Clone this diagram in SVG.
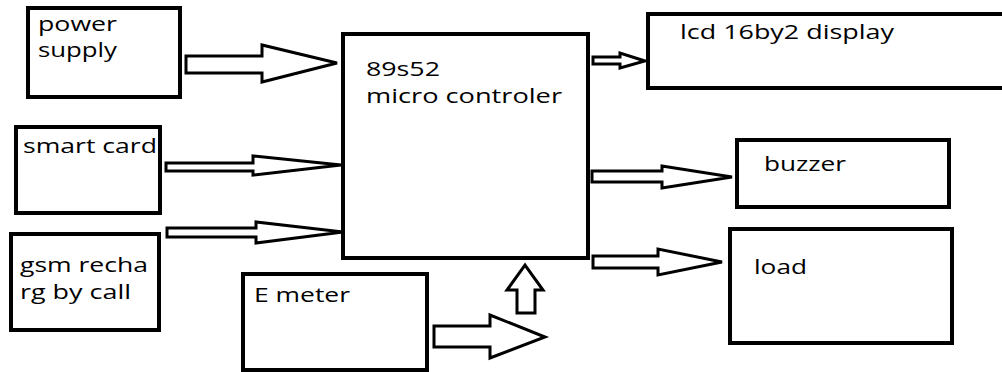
<svg xmlns="http://www.w3.org/2000/svg" width="1002" height="372" viewBox="0 0 1002 372">
<style>
.box{fill:#fff;stroke:#000;stroke-width:4}
.arr{fill:#fff;stroke:#000;stroke-width:3;stroke-linejoin:miter}
.t{font-family:"Open Sans","Noto Sans","DejaVu Sans",sans-serif;font-size:20px;fill:#000}
</style>
<rect width="1002" height="372" fill="#fff"/>
<g id="connectors">
<polygon class="arr" points="186,56 262,56 262,45 337,63 262,82 262,73 186,73"/>
<polygon class="arr" points="166,163 253,163 253,156 341,165 253,175 253,171 166,171"/>
<polygon class="arr" points="167,228 256,228 256,222 343,232 256,243 256,237 167,237"/>
<polygon class="arr" points="434,326 490,326 490,315 545,337 490,358 490,347 434,347"/>
<polygon class="arr" points="517,313 517,290 507,290 525,265 543,290 535,290 535,313"/>
<polygon class="arr" points="593,57 620,57 620,53 645,61 620,68 620,64 593,64"/>
<polygon class="arr" points="592,171 662,171 662,166 732,177 662,188 662,182 592,182"/>
<polygon class="arr" points="593,256 658,256 658,249 722,262 658,275 658,268 593,268"/>
</g>
<g id="power-supply">
<rect class="box" x="28" y="8" width="152" height="89"/>
<text class="t" x="38" y="31" textLength="79" lengthAdjust="spacingAndGlyphs">power</text>
<text class="t" x="38" y="57" textLength="79" lengthAdjust="spacingAndGlyphs">supply</text>
</g>
<g id="smart-card">
<rect class="box" x="16" y="127" width="144" height="86"/>
<text class="t" x="23" y="153" textLength="134" lengthAdjust="spacingAndGlyphs">smart card</text>
</g>
<g id="gsm">
<rect class="box" x="11" y="234" width="148" height="96"/>
<text class="t" x="20" y="272" textLength="128" lengthAdjust="spacingAndGlyphs">gsm recha</text>
<text class="t" x="20" y="299" textLength="111" lengthAdjust="spacingAndGlyphs">rg by call</text>
</g>
<g id="e-meter">
<rect class="box" x="243" y="274" width="184" height="96"/>
<text class="t" x="254" y="302" textLength="96" lengthAdjust="spacingAndGlyphs">E meter</text>
</g>
<g id="micro-controller">
<rect class="box" x="343" y="34" width="245" height="224"/>
<text class="t" x="366" y="76" textLength="74" lengthAdjust="spacingAndGlyphs">89s52</text>
<text class="t" x="366" y="103" textLength="196" lengthAdjust="spacingAndGlyphs">micro controler</text>
</g>
<g id="lcd">
<rect class="box" x="648" y="14" width="370" height="74"/>
<text class="t" x="680" y="39" textLength="214" lengthAdjust="spacingAndGlyphs">lcd 16by2 display</text>
</g>
<g id="buzzer">
<rect class="box" x="737" y="140" width="212" height="67"/>
<text class="t" x="764" y="171" textLength="82" lengthAdjust="spacingAndGlyphs">buzzer</text>
</g>
<g id="load">
<rect class="box" x="730" y="229" width="222" height="114"/>
<text class="t" x="754" y="274" textLength="53" lengthAdjust="spacingAndGlyphs">load</text>
</g>
</svg>
